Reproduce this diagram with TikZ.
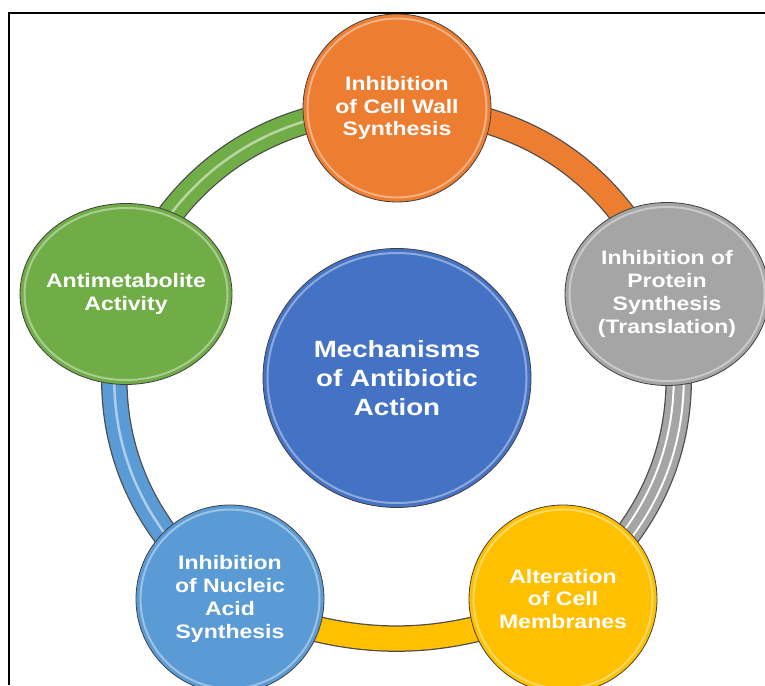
\documentclass[tikz,border=0pt]{standalone}
\usepackage{fontspec}
\setmainfont{Liberation Sans}[FakeStretch=1.18]
\usetikzlibrary{shapes.geometric,calc}

\definecolor{wallorange}{HTML}{ED7D31}
\definecolor{protgray}{HTML}{A5A5A5}
\definecolor{membyellow}{HTML}{FFC000}
\definecolor{nuclblue}{HTML}{5B9BD5}
\definecolor{antigreen}{HTML}{70AD47}
\definecolor{mechblue}{HTML}{4472C4}

\pgfdeclarelayer{rings}
\pgfsetlayers{rings,main}

\tikzset{
  shine/.style={path picture={
    \draw[white, draw opacity=.4, line width=2pt]
      let \p1=(path picture bounding box.north east),
          \p2=(path picture bounding box.center) in
      (\p2) ellipse [x radius={\x1-\x2-4.5pt}, y radius={\y1-\y2-4.5pt}];}},
  bubble/.style={ellipse, draw=black!75, line width=0.8pt, fill=#1, shine,
    text=white, align=center, inner sep=-20pt,
    font=\bfseries\fontsize{19.5}{22.7}\selectfont},
  band/.style={draw=#1, line width=24pt,
    preaction={draw=black!70, line width=26.5pt}},
  ring/.style={band=#1, postaction={draw=#1!50!white, line width=2.5pt}},
  silverring/.style={band=#1, postaction={draw=white, line width=12pt},
    postaction={draw=#1, line width=8pt}},
}

\begin{document}
\begin{tikzpicture}[x=1pt,y=1pt]
\useasboundingbox (0,0) rectangle (765,685);

% centre and the five mechanisms round it
\node[bubble=mechblue, minimum width=268pt, minimum height=259pt,
  font=\bfseries\fontsize{23.5}{29}\selectfont] (mech) at (397,307)
  {Mechanisms\\of Antibiotic\\Action};

\node[bubble=wallorange, minimum width=188pt, minimum height=188pt] (wall) at (397,577)
  {Inhibition\\of Cell Wall\\Synthesis};
\node[bubble=protgray, minimum width=204pt, minimum height=183pt] (protein) at (667,391)
  {Inhibition of\\Protein\\Synthesis\\(Translation)};
\node[bubble=membyellow, minimum width=188pt, minimum height=188pt] (membrane) at (563,86)
  {Alteration\\of Cell\\Membranes};
\node[bubble=nuclblue, minimum width=188pt, minimum height=188pt] (nucleic) at (230,86)
  {Inhibition\\of Nucleic\\Acid\\Synthesis};
\node[bubble=antigreen, minimum width=212pt, minimum height=181pt] (antimet) at (126,391)
  {Antimetabolite\\Activity};

% the ring joining them, one arc per mechanism, clockwise
\begin{pgfonlayer}{rings}
\fill[white] (0,0) rectangle (765,685);
\path[band=wallorange] (wall.center) to[bend left=34] (protein.center);
\path[silverring=protgray] (protein.center) to[bend left=34] (membrane.center);
\path[band=membyellow] (membrane.center) to[bend left=24] (nucleic.center);
\path[ring=nuclblue] (nucleic.center) to[bend left=34] (antimet.center);
\path[ring=antigreen] (antimet.center) to[bend left=34] (wall.center);
\end{pgfonlayer}

% frame
\draw[line width=2pt] (8.5,0) -- (8.5,671.5) -- (765,671.5);
\end{tikzpicture}
\end{document}
